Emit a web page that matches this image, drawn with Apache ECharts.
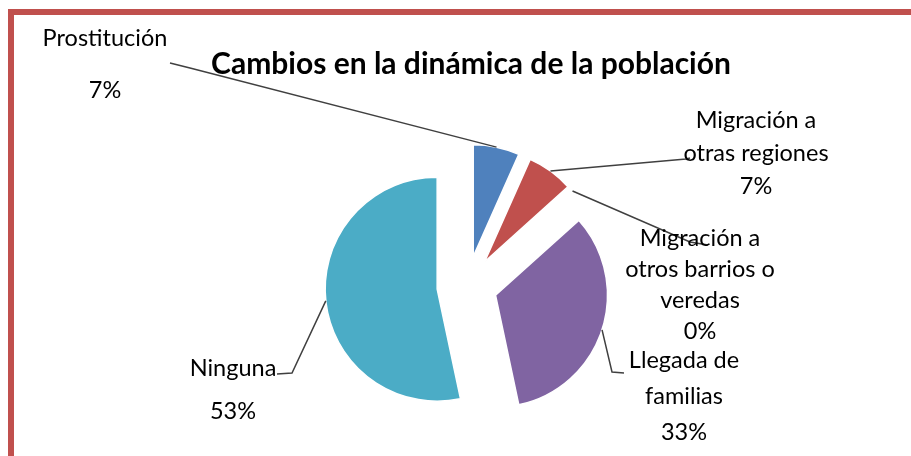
<!DOCTYPE html>
<html>
<head>
<meta charset="utf-8">
<script src="https://cdn.jsdelivr.net/npm/echarts@6/dist/echarts.min.js"></script>
<style>
html,body{margin:0;padding:0;background:#fff;}
#chart{width:911px;height:456px;}
</style>
</head>
<body>
<div id="chart"></div>
<script>
// ---- data ----
var categories = ["Prostitución", "Migración a otras regiones", "Migración a otros barrios o veredas", "Llegada de familias", "Ninguna"];
var values = [1, 1, 0, 5, 8];
var titleText = "Cambios en la dinámica de la población";

// ---- presentation (label wrapping, colours, label placement) ----
var labelLines = [
  ["Prostitución"],
  ["Migración a", "otras regiones"],
  ["Migración a", "otros barrios o", "veredas"],
  ["Llegada de", "familias"],
  ["Ninguna"]
];
var colors = ["#4F81BD", "#C0504D", "#9BBB59", "#8064A2", "#4BACC6"];
var labelX = [105, 756, 700, 684, 233];
var labelY0 = [38, 120, 238, 360, 368];
var labelLH = [52, 33, 31, 36, 43];
var guideBend = [[[190, 68], [170, 63]], [[686, 159], [690, 158]], [[690, 242], [708, 245]], [[612, 372], [624, 373]], [[292, 373], [277, 374]]];

var FONT = "Lato, 'Liberation Sans', sans-serif";
var CX = 467, CY = 286, R = 112, OFF = 30;

var total = values.reduce(function (a, b) { return a + b; }, 0);

var data = categories.map(function (name, i) {
  return { name: name, value: values[i], selected: true, itemStyle: { color: colors[i] } };
});

// labels and leader lines (start point derived from each slice's mid angle)
var graphics = [
  { type: 'rect', shape: { x: 8, y: 9, width: 903, height: 6 }, style: { fill: '#C0504D' }, z: 100 },
  { type: 'rect', shape: { x: 8, y: 9, width: 6, height: 447 }, style: { fill: '#C0504D' }, z: 100 }
];
var acc = 0;
values.forEach(function (v, i) {
  var mid = (acc + v / 2) / total * 2 * Math.PI;
  acc += v;
  var sx = CX + (R + OFF) * Math.sin(mid);
  var sy = CY - (R + OFF) * Math.cos(mid);
  graphics.push({
    type: 'polyline',
    shape: { points: [[sx, sy], guideBend[i][0], guideBend[i][1]] },
    style: { stroke: '#404040', lineWidth: 1.5, fill: null },
    z: 50
  });
  var pct = Math.round(v / total * 100) + '%';
  var lines = labelLines[i].concat([pct]);
  lines.forEach(function (t, k) {
    graphics.push({
      type: 'text',
      style: {
        text: t, x: labelX[i], y: labelY0[i] + k * labelLH[i],
        textAlign: 'center', textVerticalAlign: 'middle',
        font: '23.5px ' + FONT, fill: '#000'
      },
      z: 60
    });
  });
});

var chart = echarts.init(document.getElementById('chart'), null, { renderer: 'canvas' });
chart.setOption({
  animation: false,
  backgroundColor: '#ffffff',
  title: {
    text: titleText,
    left: 466,
    top: 44,
    textAlign: 'center',
    textStyle: { fontFamily: FONT, fontWeight: 'bold', fontSize: 30, color: '#000' }
  },
  graphic: graphics,
  series: [{
    type: 'pie',
    center: [CX, CY],
    radius: R,
    startAngle: 90,
    clockwise: true,
    selectedMode: 'multiple',
    selectedOffset: OFF,
    avoidLabelOverlap: false,
    emphasis: { disabled: true },
    itemStyle: { borderColor: '#ffffff', borderWidth: 1.5 },
    label: { show: false },
    labelLine: { show: false },
    data: data
  }]
});
</script>
</body>
</html>
